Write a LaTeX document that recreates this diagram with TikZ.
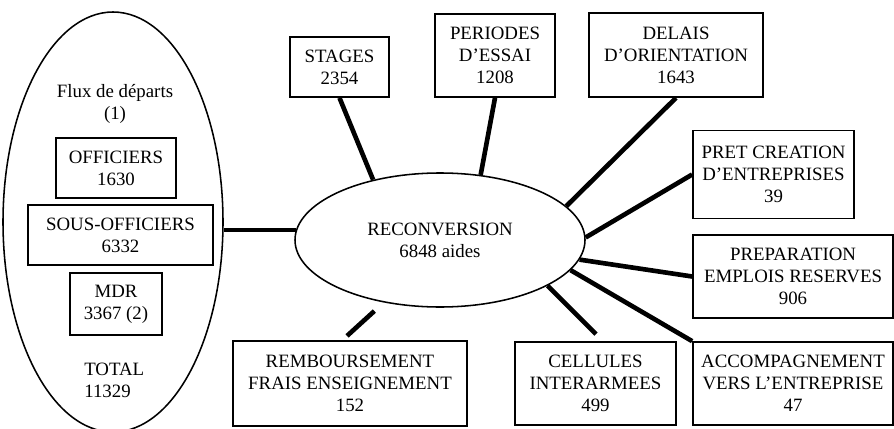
\documentclass[tikz,border=0pt]{standalone}
\usepackage{fontspec}
\setmainfont{Liberation Serif}
\usetikzlibrary{shapes.geometric}

\begin{document}
\begin{tikzpicture}[
    every node/.style={font=\fontsize{13.4}{15.6}\selectfont, align=center},
    box/.style={draw, line width=1.2pt, inner sep=0pt},
    link/.style={line width=3.3pt}]
  \useasboundingbox (0,0) rectangle (22.35,10.7);
  \clip (0,0) rectangle (22.35,10.7);
  \node[ellipse, draw, line width=1.1pt, inner sep=0pt, minimum width=5.5cm, minimum height=10.5cm] (flux) at (2.825,5.15) {};
  \node (fluxtitle) at (2.875,8.1) {Flux de départs\\(1)};
  \node[box, minimum width=3cm, minimum height=1.5cm] (off) at (2.9,6.5) {OFFICIERS\\1630};
  \node[box, minimum width=4.625cm, minimum height=1.5cm] (sousoff) at (3.0125,4.825) {SOUS-OFFICIERS\\6332};
  \node[box, minimum width=2.3cm, minimum height=1.55cm] (mdr) at (2.9,3.1) {MDR\\3367 (2)};
  \node[align=left, anchor=west, inner sep=0pt] (total) at (2.1,1.2) {TOTAL\\11329};
  \node[ellipse, draw, line width=1.1pt, inner sep=0pt, minimum width=7.25cm, minimum height=3.35cm] (recon) at (11,4.7) {RECONVERSION\\6848 aides};
  \node[box, minimum width=2.475cm, minimum height=1.5cm] (stages) at (8.4875,9.025) {STAGES\\2354};
  \node[box, minimum width=3cm, minimum height=2.075cm] (periodes) at (12.375,9.3125) {PERIODES\\D'ESSAI\\1208};
  \node[box, minimum width=4.35cm, minimum height=2.1cm] (delais) at (16.9,9.325) {DELAIS\\D'ORIENTATION\\1643};
  \node[box, minimum width=4.025cm, minimum height=2.2cm] (pret) at (19.3375,6.3375) {PRET CREATION\\D'ENTREPRISES\\39};
  \node[box, minimum width=5cm, minimum height=2.075cm] (prep) at (19.825,3.7875) {PREPARATION\\EMPLOIS RESERVES\\906};
  \node[box, minimum width=5cm, minimum height=2.075cm] (accomp) at (19.825,1.1125) {ACCOMPAGNEMENT\\VERS L'ENTREPRISE\\47};
  \node[box, minimum width=4.025cm, minimum height=2.075cm] (cell) at (14.8875,1.1125) {CELLULES\\INTERARMEES\\499};
  \node[box, minimum width=5.85cm, minimum height=2.125cm] (remb) at (8.75,1.1125) {REMBOURSEMENT\\FRAIS ENSEIGNEMENT\\152};
  \draw[link] (flux.east |- recon.176) -- (recon.176);
  \draw[link] (stages.south) -- (recon.138);
  \draw[link] (periodes.south) -- (recon.58);
  \draw[link] (delais.south) -- (recon.15);
  \draw[link] (pret.west) -- (recon.1);
  \draw[link] (prep.west) -- (recon.-8);
  \draw[link] (accomp.north west) -- (recon.-13);
  \draw[link, shorten <=7pt] (cell.80) -- (recon.-23);
  \draw[link, shorten <=4.5pt, shorten >=9pt] (remb.100) -- (recon.228);
\end{tikzpicture}
\end{document}
